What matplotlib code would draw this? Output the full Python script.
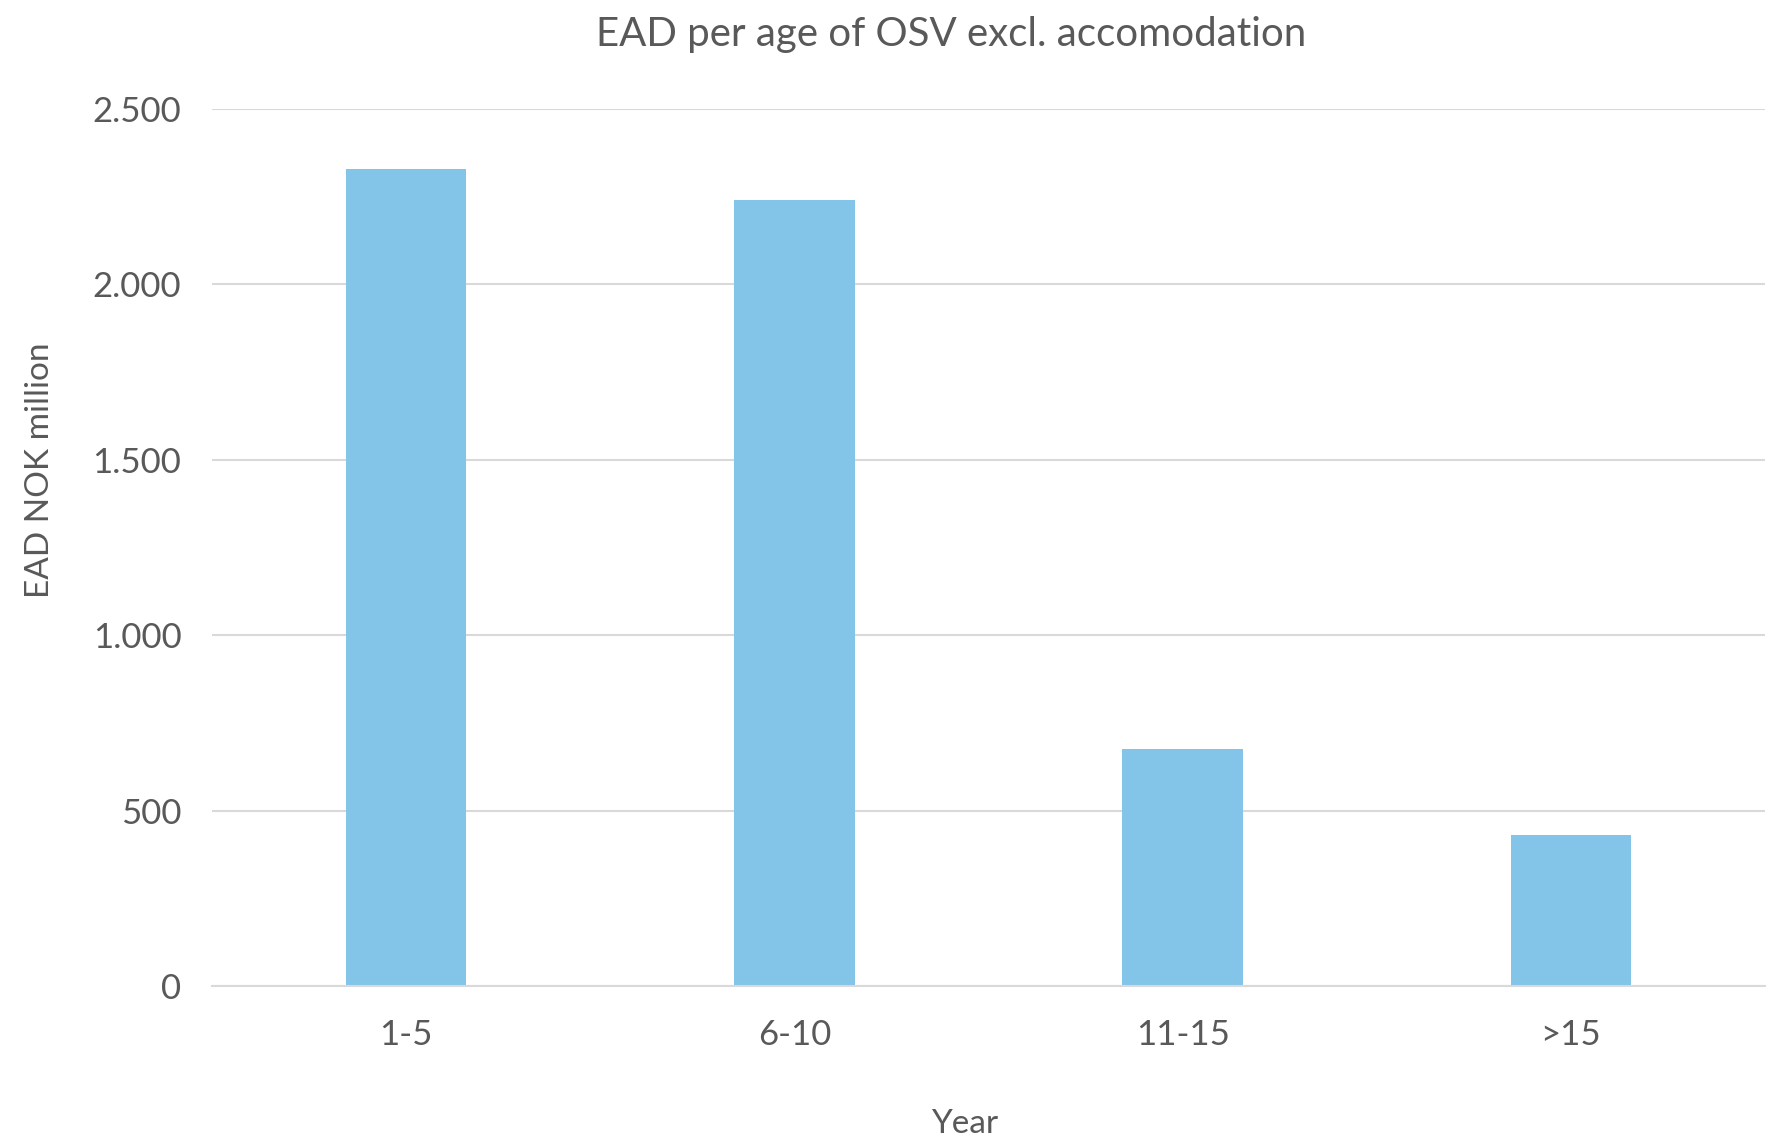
import matplotlib.pyplot as plt
from matplotlib.ticker import FuncFormatter, MultipleLocator

categories = ["1-5", "6-10", "11-15", ">15"]
ead_values = [2330, 2240, 675, 430]

TEXT = "#595959"
GRID = "#d9d9d9"
BAR = "#83c5e8"

plt.rcParams["font.family"] = ["Lato", "DejaVu Sans"]

fig = plt.figure(figsize=(17.77, 11.38), dpi=100)
ax = fig.add_axes([0.1193, 0.1336, 0.8739, 0.7706])

x = range(len(categories))
ax.bar(x, ead_values, width=0.31, color=BAR, zorder=2)
ax.set_xlim(-0.5, len(categories) - 0.5)
ax.set_ylim(0, 2500)
ax.yaxis.set_major_locator(MultipleLocator(500))
ax.yaxis.set_major_formatter(
    FuncFormatter(lambda v, _: f"{int(v):,}".replace(",", ".")))
ax.set_xticks(list(x), categories)

ax.grid(axis="y", color=GRID, linewidth=1.5, zorder=0)
for side in ["left", "right", "top"]:
    ax.spines[side].set_visible(False)
ax.spines["bottom"].set_color(GRID)
ax.spines["bottom"].set_linewidth(1.5)
ax.tick_params(axis="both", length=0, labelsize=25, labelcolor=TEXT)
ax.tick_params(axis="y", pad=22)
ax.tick_params(axis="x", pad=24)

# title, axis labels placed like the Excel chart
fig.text(0.535, 0.970, "EAD per age of OSV excl. accomodation", fontsize=29,
         color=TEXT, ha="center", va="center")
fig.text(0.0225, 0.587, "EAD NOK million", fontsize=24, color=TEXT,
         rotation=90, ha="center", va="center")
fig.text(0.5427, 0.0125, "Year", fontsize=24, color=TEXT,
         ha="center", va="center")

fig.savefig("out.png", dpi=100)
